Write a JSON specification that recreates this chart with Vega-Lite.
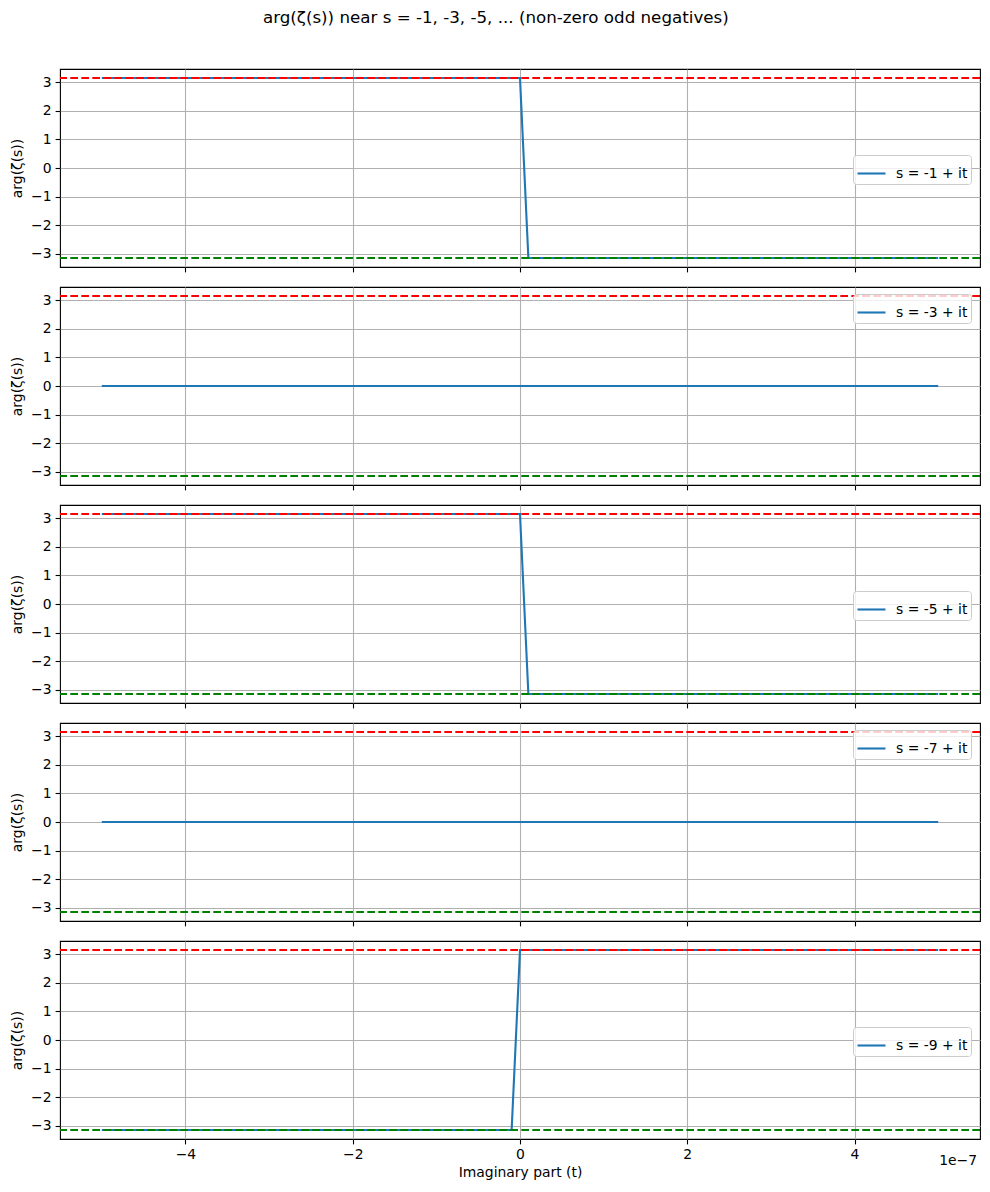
{
  "$schema": "https://vega.github.io/schema/vega-lite/v6.json",
  "description": "arg(zeta(s)) near the odd negative integers, five stacked panels",
  "padding": {"left": 10, "top": 9, "right": 10, "bottom": 8},
  "title": {
    "text": "arg(ζ(s)) near s = -1, -3, -5, ... (non-zero odd negatives)",
    "fontSize": 16.7,
    "fontWeight": "normal",
    "font": "DejaVu Sans",
    "color": "black",
    "anchor": "middle",
    "frame": "bounds",
    "offset": 42
  },
  "data": {
    "values": [
      {"s": -1, "label": "s = -1 + it", "t": -5e-7, "arg": 3.14159},
      {"s": -1, "label": "s = -1 + it", "t": 0, "arg": 3.14159},
      {"s": -1, "label": "s = -1 + it", "t": 1e-8, "arg": -3.14159},
      {"s": -1, "label": "s = -1 + it", "t": 5e-7, "arg": -3.14159},
      {"s": -3, "label": "s = -3 + it", "t": -5e-7, "arg": 0},
      {"s": -3, "label": "s = -3 + it", "t": 5e-7, "arg": 0},
      {"s": -5, "label": "s = -5 + it", "t": -5e-7, "arg": 3.14159},
      {"s": -5, "label": "s = -5 + it", "t": 0, "arg": 3.14159},
      {"s": -5, "label": "s = -5 + it", "t": 1e-8, "arg": -3.14159},
      {"s": -5, "label": "s = -5 + it", "t": 5e-7, "arg": -3.14159},
      {"s": -7, "label": "s = -7 + it", "t": -5e-7, "arg": 0},
      {"s": -7, "label": "s = -7 + it", "t": 5e-7, "arg": 0},
      {"s": -9, "label": "s = -9 + it", "t": -5e-7, "arg": -3.14159},
      {"s": -9, "label": "s = -9 + it", "t": -1e-8, "arg": -3.14159},
      {"s": -9, "label": "s = -9 + it", "t": 0, "arg": 3.14159},
      {"s": -9, "label": "s = -9 + it", "t": 5e-7, "arg": 3.14159}
    ]
  },
  "spacing": 20,
  "bounds": "flush",
  "resolve": {
    "scale": {"color": "independent", "x": "independent", "y": "independent"},
    "legend": {"color": "independent"}
  },
  "vconcat": [
    {
      "width": 920,
      "height": 198,
      "transform": [{"filter": "datum.s == -1"}],
      "layer": [
        {
          "mark": {"type": "line", "strokeWidth": 2.1},
          "encoding": {
            "x": {"field": "t", "type": "quantitative", "scale": {"domain": [-5.5e-7, 5.5e-7], "nice": false, "zero": false},
                  "axis": {"values": [-4e-7, -2e-7, 0, 2e-7, 4e-7], "labels": false, "title": null}},
            "y": {"field": "arg", "type": "quantitative", "scale": {"domain": [-3.4558, 3.4558], "nice": false, "zero": false},
                  "axis": {"values": [-3, -2, -1, 0, 1, 2, 3], "format": "d", "title": "arg(ζ(s))"}},
            "color": {"field": "label", "type": "nominal", "scale": {"range": ["#1f77b4"]},
                      "legend": {"orient": "none", "legendX": 793, "legendY": 86}}
          }
        },
        {
          "data": {"values": [{"ref": 3.14159}]},
          "mark": {"type": "rule", "color": "#ff0000", "strokeDash": [7.7, 3.3], "strokeWidth": 2.1},
          "encoding": {"y": {"field": "ref", "type": "quantitative",
                             "axis": {"values": [-3, -2, -1, 0, 1, 2, 3], "format": "d", "title": "arg(ζ(s))"}}}
        },
        {
          "data": {"values": [{"ref": -3.14159}]},
          "mark": {"type": "rule", "color": "#008000", "strokeDash": [7.7, 3.3], "strokeWidth": 2.1},
          "encoding": {"y": {"field": "ref", "type": "quantitative",
                             "axis": {"values": [-3, -2, -1, 0, 1, 2, 3], "format": "d", "title": "arg(ζ(s))"}}}
        }
      ]
    },
    {
      "width": 920,
      "height": 198,
      "transform": [{"filter": "datum.s == -3"}],
      "layer": [
        {
          "mark": {"type": "line", "strokeWidth": 2.1},
          "encoding": {
            "x": {"field": "t", "type": "quantitative", "scale": {"domain": [-5.5e-7, 5.5e-7], "nice": false, "zero": false},
                  "axis": {"values": [-4e-7, -2e-7, 0, 2e-7, 4e-7], "labels": false, "title": null}},
            "y": {"field": "arg", "type": "quantitative", "scale": {"domain": [-3.4558, 3.4558], "nice": false, "zero": false},
                  "axis": {"values": [-3, -2, -1, 0, 1, 2, 3], "format": "d", "title": "arg(ζ(s))"}},
            "color": {"field": "label", "type": "nominal", "scale": {"range": ["#1f77b4"]},
                      "legend": {"orient": "none", "legendX": 793, "legendY": 7}}
          }
        },
        {
          "data": {"values": [{"ref": 3.14159}]},
          "mark": {"type": "rule", "color": "#ff0000", "strokeDash": [7.7, 3.3], "strokeWidth": 2.1},
          "encoding": {"y": {"field": "ref", "type": "quantitative",
                             "axis": {"values": [-3, -2, -1, 0, 1, 2, 3], "format": "d", "title": "arg(ζ(s))"}}}
        },
        {
          "data": {"values": [{"ref": -3.14159}]},
          "mark": {"type": "rule", "color": "#008000", "strokeDash": [7.7, 3.3], "strokeWidth": 2.1},
          "encoding": {"y": {"field": "ref", "type": "quantitative",
                             "axis": {"values": [-3, -2, -1, 0, 1, 2, 3], "format": "d", "title": "arg(ζ(s))"}}}
        }
      ]
    },
    {
      "width": 920,
      "height": 198,
      "transform": [{"filter": "datum.s == -5"}],
      "layer": [
        {
          "mark": {"type": "line", "strokeWidth": 2.1},
          "encoding": {
            "x": {"field": "t", "type": "quantitative", "scale": {"domain": [-5.5e-7, 5.5e-7], "nice": false, "zero": false},
                  "axis": {"values": [-4e-7, -2e-7, 0, 2e-7, 4e-7], "labels": false, "title": null}},
            "y": {"field": "arg", "type": "quantitative", "scale": {"domain": [-3.4558, 3.4558], "nice": false, "zero": false},
                  "axis": {"values": [-3, -2, -1, 0, 1, 2, 3], "format": "d", "title": "arg(ζ(s))"}},
            "color": {"field": "label", "type": "nominal", "scale": {"range": ["#1f77b4"]},
                      "legend": {"orient": "none", "legendX": 793, "legendY": 86}}
          }
        },
        {
          "data": {"values": [{"ref": 3.14159}]},
          "mark": {"type": "rule", "color": "#ff0000", "strokeDash": [7.7, 3.3], "strokeWidth": 2.1},
          "encoding": {"y": {"field": "ref", "type": "quantitative",
                             "axis": {"values": [-3, -2, -1, 0, 1, 2, 3], "format": "d", "title": "arg(ζ(s))"}}}
        },
        {
          "data": {"values": [{"ref": -3.14159}]},
          "mark": {"type": "rule", "color": "#008000", "strokeDash": [7.7, 3.3], "strokeWidth": 2.1},
          "encoding": {"y": {"field": "ref", "type": "quantitative",
                             "axis": {"values": [-3, -2, -1, 0, 1, 2, 3], "format": "d", "title": "arg(ζ(s))"}}}
        }
      ]
    },
    {
      "width": 920,
      "height": 198,
      "transform": [{"filter": "datum.s == -7"}],
      "layer": [
        {
          "mark": {"type": "line", "strokeWidth": 2.1},
          "encoding": {
            "x": {"field": "t", "type": "quantitative", "scale": {"domain": [-5.5e-7, 5.5e-7], "nice": false, "zero": false},
                  "axis": {"values": [-4e-7, -2e-7, 0, 2e-7, 4e-7], "labels": false, "title": null}},
            "y": {"field": "arg", "type": "quantitative", "scale": {"domain": [-3.4558, 3.4558], "nice": false, "zero": false},
                  "axis": {"values": [-3, -2, -1, 0, 1, 2, 3], "format": "d", "title": "arg(ζ(s))"}},
            "color": {"field": "label", "type": "nominal", "scale": {"range": ["#1f77b4"]},
                      "legend": {"orient": "none", "legendX": 793, "legendY": 7}}
          }
        },
        {
          "data": {"values": [{"ref": 3.14159}]},
          "mark": {"type": "rule", "color": "#ff0000", "strokeDash": [7.7, 3.3], "strokeWidth": 2.1},
          "encoding": {"y": {"field": "ref", "type": "quantitative",
                             "axis": {"values": [-3, -2, -1, 0, 1, 2, 3], "format": "d", "title": "arg(ζ(s))"}}}
        },
        {
          "data": {"values": [{"ref": -3.14159}]},
          "mark": {"type": "rule", "color": "#008000", "strokeDash": [7.7, 3.3], "strokeWidth": 2.1},
          "encoding": {"y": {"field": "ref", "type": "quantitative",
                             "axis": {"values": [-3, -2, -1, 0, 1, 2, 3], "format": "d", "title": "arg(ζ(s))"}}}
        }
      ]
    },
    {
      "width": 920,
      "height": 198,
      "transform": [{"filter": "datum.s == -9"}],
      "layer": [
        {
          "mark": {"type": "line", "strokeWidth": 2.1},
          "encoding": {
            "x": {"field": "t", "type": "quantitative", "scale": {"domain": [-5.5e-7, 5.5e-7], "nice": false, "zero": false},
                  "axis": {"values": [-4e-7, -2e-7, 0, 2e-7, 4e-7], "labelExpr": "format(datum.value * 1e7, '.0f')", "title": "Imaginary part (t)"}},
            "y": {"field": "arg", "type": "quantitative", "scale": {"domain": [-3.4558, 3.4558], "nice": false, "zero": false},
                  "axis": {"values": [-3, -2, -1, 0, 1, 2, 3], "format": "d", "title": "arg(ζ(s))"}},
            "color": {"field": "label", "type": "nominal", "scale": {"range": ["#1f77b4"]},
                      "legend": {"orient": "none", "legendX": 793, "legendY": 86}}
          }
        },
        {
          "data": {"values": [{"ref": 3.14159}]},
          "mark": {"type": "rule", "color": "#ff0000", "strokeDash": [7.7, 3.3], "strokeWidth": 2.1},
          "encoding": {"y": {"field": "ref", "type": "quantitative",
                             "axis": {"values": [-3, -2, -1, 0, 1, 2, 3], "format": "d", "title": "arg(ζ(s))"}}}
        },
        {
          "data": {"values": [{"ref": -3.14159}]},
          "mark": {"type": "rule", "color": "#008000", "strokeDash": [7.7, 3.3], "strokeWidth": 2.1},
          "encoding": {"y": {"field": "ref", "type": "quantitative",
                             "axis": {"values": [-3, -2, -1, 0, 1, 2, 3], "format": "d", "title": "arg(ζ(s))"}}}
        },
        {
          "data": {"values": [{"t": 5.5e-7, "arg": -3.4558, "text": "1e−7"}]},
          "mark": {"type": "text", "align": "right", "baseline": "middle", "dx": -3, "dy": 22, "fontSize": 13.9, "color": "black"},
          "encoding": {
            "x": {"field": "t", "type": "quantitative",
                  "axis": {"values": [-4e-7, -2e-7, 0, 2e-7, 4e-7], "labelExpr": "format(datum.value * 1e7, '.0f')", "title": "Imaginary part (t)"}},
            "y": {"field": "arg", "type": "quantitative",
                  "axis": {"values": [-3, -2, -1, 0, 1, 2, 3], "format": "d", "title": "arg(ζ(s))"}},
            "text": {"field": "text"}
          }
        }
      ]
    }
  ],
  "config": {
    "font": "DejaVu Sans",
    "view": {"stroke": "black", "strokeWidth": 1.1},
    "axis": {
      "domain": false,
      "grid": true,
      "gridColor": "#b0b0b0",
      "gridWidth": 1.1,
      "tickColor": "black",
      "tickSize": 4.9,
      "tickWidth": 1.1,
      "labelFont": "DejaVu Sans",
      "labelFontSize": 13.9,
      "labelColor": "black",
      "labelPadding": 4,
      "titleFont": "DejaVu Sans",
      "titleFontSize": 13.9,
      "titleFontWeight": "normal",
      "titleColor": "black"
    },
    "axisY": {"titlePadding": 6},
    "axisX": {"titlePadding": 4},
    "legend": {
      "title": null,
      "symbolType": "stroke",
      "symbolSize": 784,
      "symbolStrokeWidth": 2.1,
      "labelFont": "DejaVu Sans",
      "labelFontSize": 13.9,
      "labelColor": "black",
      "labelOffset": 9,
      "padding": 3,
      "strokeColor": "#cccccc",
      "fillColor": "rgba(255,255,255,0.8)",
      "cornerRadius": 3
    }
  }
}
